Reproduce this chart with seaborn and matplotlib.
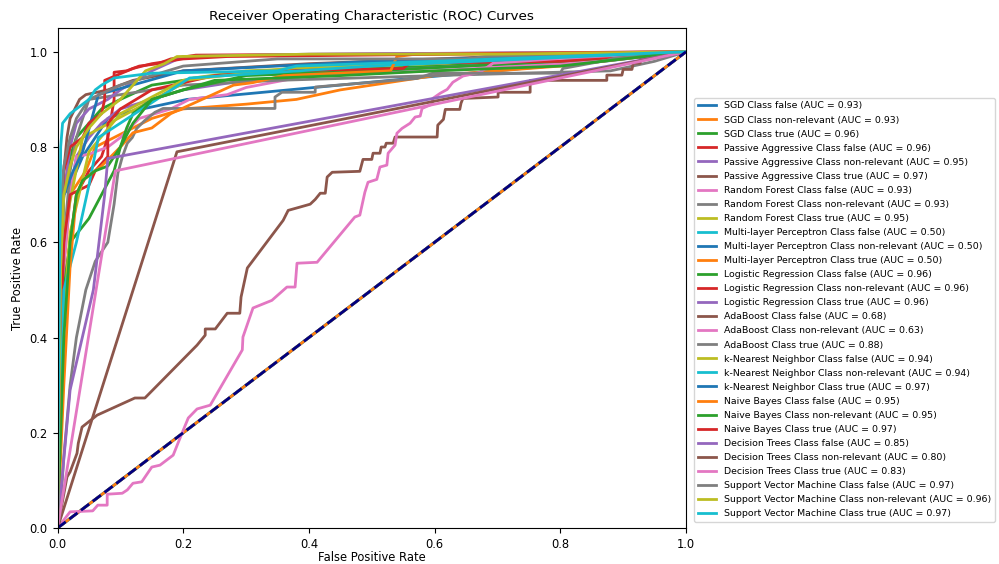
import matplotlib
matplotlib.use("Agg")
import matplotlib.pyplot as plt
import seaborn as sns

# ROC points (FPR, TPR), one pair of lists per curve
models = ["SGD", "Passive Aggressive", "Random Forest", "Multi-layer Perceptron",
          "Logistic Regression", "AdaBoost", "k-Nearest Neighbor", "Naive Bayes",
          "Decision Trees", "Support Vector Machine"]
classes = ["false", "non-relevant", "true"]
auc_values = [0.93, 0.93, 0.96, 0.96, 0.95, 0.97, 0.93, 0.93, 0.95, 0.50,
              0.50, 0.50, 0.96, 0.96, 0.96, 0.68, 0.63, 0.88, 0.94, 0.94,
              0.97, 0.95, 0.95, 0.97, 0.85, 0.80, 0.83, 0.97, 0.96, 0.97]

fpr_sgd_false = [0, 0, 0.005, 0.005, 0.01, 0.02, 0.03, 0.04, 0.05, 0.06, 0.08, 0.1, 0.206, 0.57, 0.87, 1]
tpr_sgd_false = [0, 0.45, 0.45, 0.62, 0.70, 0.72, 0.75, 0.78, 0.80, 0.82, 0.86, 0.87, 0.90, 0.945, 0.98, 1]
fpr_sgd_nonrel = [0, 0.005, 0.01, 0.015, 0.02, 0.03, 0.045, 0.06, 0.09, 0.12, 0.15, 0.2, 0.3, 0.38, 0.45, 0.6, 0.8, 1]
tpr_sgd_nonrel = [0, 0.35, 0.55, 0.62, 0.70, 0.72, 0.75, 0.80, 0.82, 0.84, 0.86, 0.88, 0.89, 0.90, 0.92, 0.95, 0.97, 1]
fpr_sgd_true = [0, 0.005, 0.01, 0.02, 0.03, 0.05, 0.07, 0.1, 0.15, 0.25, 0.4, 0.6, 0.8, 1]
tpr_sgd_true = [0, 0.50, 0.70, 0.78, 0.82, 0.85, 0.88, 0.90, 0.93, 0.95, 0.96, 0.97, 0.98, 1]

fpr_pa_false = [0, 0.005, 0.01, 0.02, 0.03, 0.05, 0.07, 0.08, 0.09, 0.09, 0.11, 0.13, 0.16, 0.18, 0.22, 0.45, 1]
tpr_pa_false = [0, 0.30, 0.50, 0.60, 0.70, 0.75, 0.78, 0.82, 0.90, 0.957, 0.96, 0.97, 0.975, 0.985, 0.993, 0.995, 1]
fpr_pa_nonrel = [0, 0.005, 0.01, 0.02, 0.03, 0.05, 0.07, 0.1, 0.2, 0.3, 0.5, 0.8, 1]
tpr_pa_nonrel = [0, 0.40, 0.60, 0.70, 0.78, 0.82, 0.85, 0.88, 0.92, 0.94, 0.96, 0.98, 1]
fpr_pa_true = [0, 0.003, 0.01, 0.015, 0.02, 0.035, 0.045, 0.08, 0.12, 0.2, 0.4, 0.7, 1]
tpr_pa_true = [0, 0.60, 0.75, 0.82, 0.86, 0.90, 0.91, 0.92, 0.94, 0.96, 0.975, 0.99, 1]

fpr_rf_false = [0, 0.005, 0.01, 0.02, 0.03, 0.05, 0.08, 0.1, 0.13, 0.18, 0.21, 0.27, 0.3, 0.36, 0.4, 0.6, 0.8, 1]
tpr_rf_false = [0, 0.30, 0.55, 0.70, 0.78, 0.785, 0.80, 0.82, 0.86, 0.88, 0.90, 0.91, 0.925, 0.94, 0.95, 0.96, 0.975, 1]
fpr_rf_nonrel = [0, 0.005, 0.01, 0.02, 0.03, 0.04, 0.05, 0.1, 0.2, 0.35, 0.6, 0.88, 0.95, 1]
tpr_rf_nonrel = [0, 0.40, 0.60, 0.75, 0.82, 0.86, 0.90, 0.91, 0.93, 0.94, 0.95, 0.96, 0.98, 1]
fpr_rf_true = [0, 0, 0.01, 0.04, 0.216, 0.3, 0.6, 1]
tpr_rf_true = [0, 0.55, 0.62, 0.82, 0.945, 0.96, 0.975, 1]

fpr_mlp_false = [0, 1]
tpr_mlp_false = [0, 1]
fpr_mlp_nonrel = [0, 1]
tpr_mlp_nonrel = [0, 1]
fpr_mlp_true = [0, 1]
tpr_mlp_true = [0, 1]

fpr_lr_false = [0, 0.005, 0.01, 0.02, 0.05, 0.07, 0.09, 0.1, 0.11, 0.12, 0.15, 0.2, 0.3, 0.5, 0.8, 1]
tpr_lr_false = [0, 0.30, 0.50, 0.60, 0.65, 0.70, 0.75, 0.80, 0.84, 0.87, 0.90, 0.92, 0.95, 0.96, 0.98, 1]
fpr_lr_nonrel = [0, 0.005, 0.01, 0.02, 0.05, 0.06, 0.08, 0.08, 0.1, 0.15, 0.25, 0.35, 0.55, 0.56, 0.8, 1]
tpr_lr_nonrel = [0, 0.40, 0.60, 0.70, 0.72, 0.75, 0.78, 0.85, 0.88, 0.92, 0.95, 0.96, 0.965, 0.976, 0.98, 1]
fpr_lr_true = [0, 0.005, 0.01, 0.02, 0.03, 0.05, 0.08, 0.1, 0.15, 0.2, 0.4, 1]
tpr_lr_true = [0, 0.55, 0.70, 0.80, 0.85, 0.88, 0.90, 0.92, 0.96, 0.99, 0.995, 1]

fpr_ada_false = [0, 0.015, 0.02, 0.031, 0.033, 0.039, 0.063, 0.123, 0.139, 0.222, 0.235, 0.235,
                 0.251, 0.27, 0.29, 0.292, 0.302, 0.359, 0.367, 0.386, 0.402, 0.41, 0.418, 0.426,
                 0.429, 0.437, 0.481, 0.486, 0.5, 0.502, 0.513, 0.515, 0.521, 0.523, 0.534, 0.537,
                 0.604, 0.605, 0.614, 0.617, 0.64, 0.642, 0.645, 0.701, 0.701, 0.752, 0.752, 0.874,
                 0.874, 0.898, 0.9, 0.914, 0.916, 0.927, 0.928, 1]
tpr_ada_false = [0, 0.107, 0.118, 0.157, 0.178, 0.212, 0.237, 0.273, 0.273, 0.384, 0.405, 0.418,
                 0.418, 0.451, 0.451, 0.485, 0.546, 0.646, 0.667, 0.674, 0.68, 0.69, 0.703, 0.703,
                 0.737, 0.747, 0.749, 0.774, 0.774, 0.787, 0.787, 0.8, 0.8, 0.808, 0.808, 0.821,
                 0.821, 0.846, 0.858, 0.879, 0.879, 0.892, 0.902, 0.905, 0.915, 0.915, 0.94, 0.94,
                 0.951, 0.951, 0.963, 0.963, 0.976, 0.976, 0.986, 1]
fpr_ada_nonrel = [0, 0.02, 0.056, 0.064, 0.079, 0.079, 0.103, 0.111, 0.12, 0.134, 0.15, 0.163,
                  0.184, 0.198, 0.208, 0.222, 0.243, 0.294, 0.295, 0.306, 0.311, 0.341, 0.365,
                  0.378, 0.381, 0.413, 0.473, 0.481, 0.489, 0.494, 0.508, 0.513, 0.524, 0.526,
                  0.537, 0.54, 0.548, 0.561, 0.569, 0.577, 0.58, 0.596, 0.597, 0.609, 0.62, 0.629,
                  0.645, 0.672, 0.693, 0.8, 1]
tpr_ada_nonrel = [0, 0.034, 0.036, 0.048, 0.048, 0.071, 0.073, 0.08, 0.094, 0.097, 0.128, 0.132,
                  0.153, 0.199, 0.231, 0.25, 0.258, 0.374, 0.401, 0.443, 0.462, 0.478, 0.506,
                  0.506, 0.556, 0.558, 0.653, 0.657, 0.705, 0.726, 0.732, 0.758, 0.762, 0.787,
                  0.804, 0.829, 0.839, 0.85, 0.863, 0.865, 0.881, 0.89, 0.902, 0.913, 0.921, 0.936,
                  0.949, 0.957, 0.976, 0.986, 1]
fpr_ada_true = [0, 0.005, 0.01, 0.02, 0.03, 0.045, 0.06, 0.08, 0.09, 0.096, 0.103, 0.111, 0.119,
                0.126, 0.139, 0.155, 0.168, 0.346, 0.346, 0.357, 0.41, 0.41, 0.572, 0.597, 0.8,
                0.804, 0.874, 0.884, 1]
tpr_ada_true = [0, 0.05, 0.15, 0.30, 0.40, 0.50, 0.56, 0.60, 0.68, 0.745, 0.779, 0.808, 0.82,
                0.839, 0.856, 0.873, 0.881, 0.881, 0.905, 0.915, 0.915, 0.926, 0.944, 0.955, 0.955,
                0.965, 0.982, 0.986, 1]

fpr_knn_false = [0, 0.01, 0.02, 0.05, 0.1, 0.2, 0.4, 1]
tpr_knn_false = [0, 0.45, 0.62, 0.79, 0.87, 0.94, 0.97, 1]
fpr_knn_nonrel = [0, 0.01, 0.03, 0.05, 0.065, 0.21, 0.5, 1]
tpr_knn_nonrel = [0, 0.50, 0.60, 0.72, 0.82, 0.945, 0.97, 1]
fpr_knn_true = [0, 0.005, 0.01, 0.025, 0.04, 0.065, 0.2, 0.5, 1]
tpr_knn_true = [0, 0.60, 0.70, 0.75, 0.79, 0.91, 0.96, 0.98, 1]

fpr_nb_false = [0, 0.01, 0.02, 0.03, 0.04, 0.07, 0.1, 0.12, 0.15, 0.18, 0.28, 0.31, 0.36, 0.53, 0.54, 0.57, 1]
tpr_nb_false = [0, 0.30, 0.55, 0.70, 0.73, 0.76, 0.80, 0.83, 0.84, 0.87, 0.93, 0.935, 0.95, 0.96, 0.99, 0.995, 1]
fpr_nb_nonrel = [0, 0.01, 0.02, 0.03, 0.04, 0.06, 0.08, 0.1, 0.12, 0.15, 0.25, 0.45, 0.6, 0.8, 1]
tpr_nb_nonrel = [0, 0.40, 0.60, 0.70, 0.73, 0.75, 0.76, 0.80, 0.85, 0.90, 0.94, 0.95, 0.96, 0.97, 1]
fpr_nb_true = [0, 0.005, 0.01, 0.02, 0.04, 0.05, 0.07, 0.075, 0.075, 0.12, 0.15, 0.2, 0.27, 1]
tpr_nb_true = [0, 0.60, 0.75, 0.80, 0.82, 0.85, 0.87, 0.90, 0.94, 0.965, 0.975, 0.985, 0.99, 1]

fpr_dt_false = [0, 0.02, 0.057, 0.075, 0.08, 1]
tpr_dt_false = [0, 0.29, 0.50, 0.70, 0.776, 1]
fpr_dt_nonrel = [0, 0.19, 1]
tpr_dt_nonrel = [0, 0.79, 1]
fpr_dt_true = [0, 0.092, 1]
tpr_dt_true = [0, 0.75, 1]

fpr_svm_false = [0, 0.005, 0.01, 0.02, 0.03, 0.05, 0.1, 0.2, 0.35, 0.65, 0.68, 1]
tpr_svm_false = [0, 0.65, 0.76, 0.82, 0.86, 0.90, 0.93, 0.97, 0.985, 0.985, 0.99, 1]
fpr_svm_nonrel = [0, 0.005, 0.01, 0.02, 0.03, 0.05, 0.07, 0.1, 0.14, 0.17, 0.19, 0.4, 0.7, 1]
tpr_svm_nonrel = [0, 0.55, 0.70, 0.76, 0.80, 0.84, 0.87, 0.90, 0.96, 0.975, 0.99, 0.995, 0.995, 1]
fpr_svm_true = [0, 0.003, 0.005, 0.008, 0.02, 0.03, 0.05, 0.06, 0.07, 0.09, 0.15, 0.35, 0.38, 0.6, 0.8, 1]
tpr_svm_true = [0, 0.50, 0.80, 0.85, 0.87, 0.88, 0.90, 0.92, 0.93, 0.945, 0.955, 0.96, 0.97, 0.98, 0.99, 1]

curves = [
    (fpr_sgd_false, tpr_sgd_false), (fpr_sgd_nonrel, tpr_sgd_nonrel), (fpr_sgd_true, tpr_sgd_true),
    (fpr_pa_false, tpr_pa_false), (fpr_pa_nonrel, tpr_pa_nonrel), (fpr_pa_true, tpr_pa_true),
    (fpr_rf_false, tpr_rf_false), (fpr_rf_nonrel, tpr_rf_nonrel), (fpr_rf_true, tpr_rf_true),
    (fpr_mlp_false, tpr_mlp_false), (fpr_mlp_nonrel, tpr_mlp_nonrel), (fpr_mlp_true, tpr_mlp_true),
    (fpr_lr_false, tpr_lr_false), (fpr_lr_nonrel, tpr_lr_nonrel), (fpr_lr_true, tpr_lr_true),
    (fpr_ada_false, tpr_ada_false), (fpr_ada_nonrel, tpr_ada_nonrel), (fpr_ada_true, tpr_ada_true),
    (fpr_knn_false, tpr_knn_false), (fpr_knn_nonrel, tpr_knn_nonrel), (fpr_knn_true, tpr_knn_true),
    (fpr_nb_false, tpr_nb_false), (fpr_nb_nonrel, tpr_nb_nonrel), (fpr_nb_true, tpr_nb_true),
    (fpr_dt_false, tpr_dt_false), (fpr_dt_nonrel, tpr_dt_nonrel), (fpr_dt_true, tpr_dt_true),
    (fpr_svm_false, tpr_svm_false), (fpr_svm_nonrel, tpr_svm_nonrel), (fpr_svm_true, tpr_svm_true),
]

plt.style.use('default')
plt.rcParams['font.size'] = 8.3

fig = plt.figure(figsize=(9.99, 5.64), dpi=100)
ax = fig.add_axes([0.0576, 0.0638, 0.6291, 0.8866])

palette = sns.color_palette("tab10")
k = 0
for model in models:
    for cls in classes:
        fpr, tpr = curves[k]
        sns.lineplot(x=fpr, y=tpr, ax=ax, color=palette[k % 10], lw=2, sort=False,
                     estimator=None, label=f"{model} Class {cls} (AUC = {auc_values[k]:.2f})")
        k += 1

ax.plot([0, 1], [0, 1], color='navy', lw=2, linestyle='--')
ax.set_xlim(0.0, 1.0)
ax.set_ylim(0.0, 1.05)
ax.set_xlabel('False Positive Rate', labelpad=0.5)
ax.set_ylabel('True Positive Rate')
ax.set_title('Receiver Operating Characteristic (ROC) Curves', fontsize=9.7)

ax.legend(loc='upper left', bbox_to_anchor=(0.690, 0.835), bbox_transform=fig.transFigure,
          fontsize=6.75, labelspacing=0.54)

plt.savefig('out.png', dpi=100)
plt.close()
